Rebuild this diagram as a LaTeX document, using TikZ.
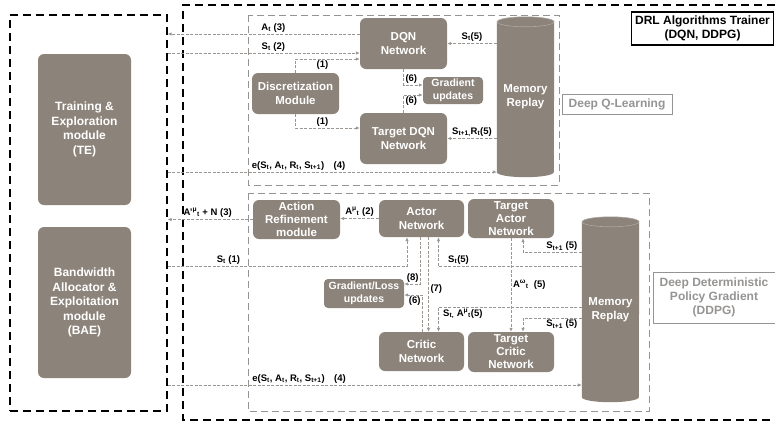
\documentclass[tikz,border=0pt]{standalone}
\usepackage{fontspec}
\setmainfont{Liberation Sans}
\usetikzlibrary{arrows.meta, positioning, backgrounds}
\definecolor{taupe}{RGB}{140,131,122}
\definecolor{linegray}{RGB}{155,150,145}
\definecolor{boxgray}{RGB}{150,148,146}
\newcommand{\supsub}[2]{\textsuperscript{#1}\textsubscript{#2}}

\begin{document}
\begin{tikzpicture}[
        x=1pt, y=-1pt,
        module/.style={rectangle, rounded corners=6pt, fill=taupe, text=white,
            font=\bfseries\fontsize{11.5}{14}\selectfont, align=center, inner sep=1pt},
        membody/.style={rectangle, minimum width=57pt, text=white,
            font=\bfseries\fontsize{11.5}{14}\selectfont, align=center},
        outer/.style={draw=black, line width=1.2pt, dash pattern=on 8pt off 5pt},
        algobox/.style={draw=boxgray, line width=1pt, dash pattern=on 7pt off 4pt},
        tag/.style={draw=boxgray, line width=1pt, text=boxgray, align=center,
            font=\bfseries\fontsize{12}{14}\selectfont},
        arrow/.style={draw=linegray, line width=1pt, dash pattern=on 3pt off 1.5pt,
            -{Latex[length=4pt, width=3.5pt]}},
        lbl/.style={font=\bfseries\fontsize{9.5}{11}\selectfont, inner sep=1.5pt},
    ]
        \useasboundingbox (0,0) rectangle (775,424);

        \node (agents) [outer, minimum width=157pt, minimum height=396pt] at (88.5,213) {};
        \node (te) [module, minimum width=93pt, minimum height=151pt,
            font=\bfseries\fontsize{12}{14.5}\selectfont] at (84.5,129.5)
            {Training \&\\Exploration\\module\\(TE)};
        \node (bae) [module, minimum width=93pt, minimum height=151pt,
            font=\bfseries\fontsize{12}{14.5}\selectfont] at (84.5,302.5)
            {Bandwidth\\Allocator \&\\Exploitation\\module\\(BAE)};

        \draw [outer] (775,5) -| (183,420) -- (775,420);
        \node (trainer) [draw=black, line width=1.2pt, align=center, minimum width=141pt,
            minimum height=33pt, font=\bfseries\fontsize{12}{13.5}\selectfont] at (702.5,28.5)
            {DRL Algorithms Trainer\\(DQN, DDPG)};

        \draw [algobox] (248,15) rectangle (559,185);
        \node (dqltag) [tag, minimum width=110pt, minimum height=20pt] at (617,104) {Deep Q-Learning};
        \node (dqn) [module, minimum width=87pt, minimum height=51pt] at (403.5,43.5) {DQN\\Network};
        \node (disc) [module, minimum width=87pt, minimum height=41pt] at (295.5,93.5) {Discretization\\Module};
        \node (grad) [module, rounded corners=4pt, minimum width=60pt, minimum height=27pt,
            font=\bfseries\fontsize{10.5}{12.5}\selectfont] at (453,90.5) {Gradient\\updates};
        \node (tdqn) [module, minimum width=87pt, minimum height=51pt] at (403.5,138.5) {Target DQN\\Network};
        \node (mem1) [membody, minimum height=150pt] at (525.5,97) {Memory\\Replay};

        \draw [algobox] (248,193) rectangle (649,411);
        \node (ddpgtag) [tag, minimum width=122pt, minimum height=51pt] at (714,297.5)
            {Deep Deterministic\\Policy Gradient\\(DDPG)};
        \node (refine) [module, minimum width=87pt, minimum height=39pt,
            font=\bfseries\fontsize{11.5}{13}\selectfont] at (296.5,219.5)
            {Action\\Refinement\\module};
        \node (actor) [module, minimum width=85pt, minimum height=37pt] at (421.5,218.5) {Actor\\Network};
        \node (tactor) [module, minimum width=86pt, minimum height=39pt,
            font=\bfseries\fontsize{11.5}{13}\selectfont] at (511,218.5)
            {Target\\Actor\\Network};
        \node (gl) [module, rounded corners=4pt, minimum width=80pt, minimum height=29pt,
            font=\bfseries\fontsize{10.5}{12.5}\selectfont] at (364,293.5) {Gradient/Loss\\updates};
        \node (critic) [module, minimum width=85pt, minimum height=39pt] at (421.5,351.5) {Critic\\Network};
        \node (tcritic) [module, minimum width=86pt, minimum height=40pt,
            font=\bfseries\fontsize{11.5}{13}\selectfont] at (511,352)
            {Target\\Critic\\Network};
        \node (mem2) [membody, minimum height=175pt] at (610.5,309.5) {Memory\\Replay};

        \begin{scope}[on background layer]
            \foreach \mem in {mem1, mem2} {
                \fill [taupe] (\mem.north west) -- (\mem.south west)
                    arc [start angle=180, end angle=360, x radius=28.5pt, y radius=5pt]
                    -- (\mem.north east)
                    arc [start angle=0, end angle=180, x radius=28.5pt, y radius=5pt];
                \draw [taupe!70!white, line width=0.6pt] (\mem.north)
                    ellipse [x radius=28.5pt, y radius=5pt];
            }
        \end{scope}

        \draw [arrow] ([yshift=9.5pt]dqn.west) -- ([yshift=9.5pt]dqn.west -| agents.east)
            node [lbl, pos=0.45, anchor=south] {A\textsubscript{t} (3)};
        \draw [arrow] ([yshift=-9.5pt]dqn.west -| agents.east) -- ([yshift=-9.5pt]dqn.west)
            node [lbl, pos=0.55, anchor=south] {S\textsubscript{t} (2)};
        \draw [arrow] (disc.north) |- ([yshift=-15.5pt]dqn.west)
            node [lbl, pos=0.71, anchor=north] {(1)};
        \draw [arrow] (disc.south) |- ([yshift=10.5pt]tdqn.west)
            node [lbl, pos=0.71, anchor=south] {(1)};
        \draw [arrow] (dqn.south) |- ([yshift=5.5pt]grad.west)
            node [lbl, pos=0.5, anchor=south west] {(6)};
        \draw [arrow] (tdqn.north) |- ([yshift=-4.5pt]grad.west)
            node [lbl, pos=0.5, anchor=north west] {(6)};
        \draw [arrow] (dqn.east -| mem1.west) -- (dqn.east)
            node [lbl, midway, anchor=south] {S\textsubscript{t}(5)};
        \draw [arrow] (tdqn.east -| mem1.west) -- (tdqn.east)
            node [lbl, midway, anchor=south] {S\textsubscript{t+1,}R\textsubscript{t}(5)};
        \draw [arrow] ([yshift=41pt]agents.east) -- ([yshift=41pt]agents.east -| mem1.west)
            node [lbl, pos=0.25, anchor=south west]
            {e(S\textsubscript{t}, A\textsubscript{t}, R\textsubscript{t}, S\textsubscript{t+1})\quad(4)};

        \draw [arrow] (refine.west) -- (refine.west -| agents.east)
            node [lbl, pos=0.53, anchor=south] {A'\supsub{μ}{t} + N (3)};
        \draw [arrow] (actor.west) -- (actor.west -| refine.east)
            node [lbl, midway, anchor=south] {A\supsub{μ}{t} (2)};
        \draw [arrow] ([yshift=-53pt]agents.east) -| ([xshift=-14.5pt]actor.south)
            node [lbl, pos=0.127, anchor=south] {S\textsubscript{t} (1)};
        \draw [arrow] ([xshift=-1pt]actor.south) |- ([yshift=9.5pt]gl.east)
            node [lbl, pos=0.5, anchor=south east] {(8)};
        \draw [arrow] ([xshift=1pt]critic.north) |- ([yshift=-1.5pt]gl.east)
            node [lbl, pos=0.5, anchor=north east] {(6)};
        \draw [arrow] ([xshift=7pt]actor.south) -- ([xshift=7pt]critic.north)
            node [lbl, pos=0.55, anchor=west] {(7)};
        \draw [arrow] ([yshift=43pt]mem2.west) -| ([xshift=17pt]actor.south)
            node [lbl, pos=0.43, anchor=south] {S\textsubscript{t}(5)};
        \draw [arrow] ([yshift=57pt]mem2.west) -| ([xshift=12pt]tactor.south)
            node [lbl, pos=0.17, anchor=south] {S\textsubscript{t+1} (5)};
        \draw [arrow] (tactor.south) -- (tcritic.north)
            node [lbl, midway, anchor=west] {A\supsub{ω}{t}\ \ (5)};
        \draw [arrow] ([yshift=2.5pt]mem2.west) -| ([xshift=17pt]critic.north)
            node [lbl, pos=0.415, anchor=north] {S\textsubscript{t,} A\supsub{μ}{t}(5)};
        \draw [arrow] ([yshift=-8.5pt]mem2.west) -| ([xshift=12pt]tcritic.north)
            node [lbl, pos=0.17, anchor=north] {S\textsubscript{t+1} (5)};
        \draw [arrow] ([yshift=-172pt]agents.east) -- ([yshift=-172pt]agents.east -| mem2.west)
            node [lbl, pos=0.2, anchor=south west]
            {e(S\textsubscript{t}, A\textsubscript{t}, R\textsubscript{t}, S\textsubscript{t+1})\quad(4)};
    \end{tikzpicture}
\end{document}
